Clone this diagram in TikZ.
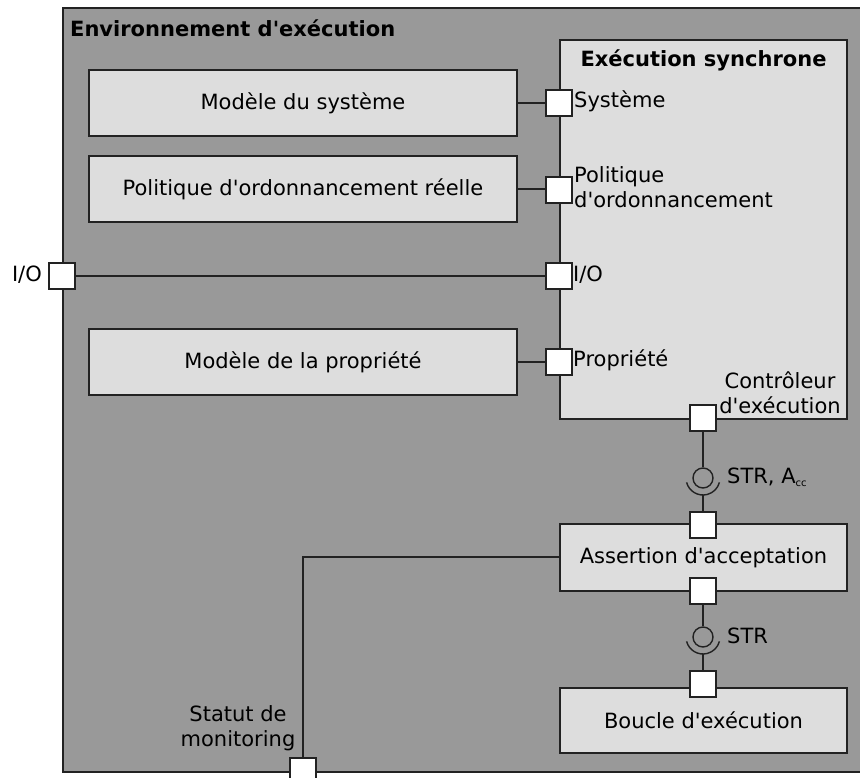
\documentclass[tikz,border=0pt]{standalone}
\usepackage{fontspec}
\setmainfont{DejaVu Sans}[Ligatures=TeXOff]
\definecolor{envfill}{HTML}{999999}
\definecolor{boxfill}{HTML}{DDDDDD}
\definecolor{edge}{HTML}{222222}
\begin{document}
\begin{tikzpicture}[x=1pt,y=-1pt,
  every node/.style={font=\fontsize{21}{25}\selectfont, text=black},
  envbox/.style={draw=edge, line width=2.2pt, fill=envfill, inner sep=0pt},
  compbox/.style={draw=edge, line width=1.5pt, fill=boxfill, inner sep=0pt},
  portbox/.style={draw=edge, line width=1.4pt, fill=white, minimum width=26pt, minimum height=26pt, inner sep=0pt},
  conn/.style={draw=edge, line width=1.4pt},
  lbl/.style={inner sep=0pt},
  ball/.style={circle, draw=edge, line width=1.4pt, minimum size=20pt, inner sep=0pt}
]
\useasboundingbox (0,0) rectangle (860,778);
% outer environment
\node[envbox, minimum width=810pt, minimum height=764pt] (env) at (468,390) {};
\node[lbl, anchor=west, font=\fontsize{21}{25}\selectfont\bfseries] (envtitle) at (70,28) {Environnement d'exécution};

% synchronous execution
\node[compbox, minimum width=287pt, minimum height=379pt] (sync) at (703.5,229.5) {};
\node[lbl, font=\fontsize{21}{25}\selectfont\bfseries] (synctitle) at (703.5,60) {Exécution synchrone};

% left components
\node[compbox, minimum width=428pt, minimum height=66pt] (modele) at (303,103) {Modèle du système};
\node[compbox, minimum width=428pt, minimum height=66pt] (politique) at (303,189) {Politique d'ordonnancement réelle};
\node[compbox, minimum width=428pt, minimum height=66pt] (propriete) at (303,362) {Modèle de la propriété};

% bottom right components
\node[compbox, minimum width=287pt, minimum height=67pt] (assertion) at (703.5,557.5) {Assertion d'acceptation};
\node[compbox, minimum width=287pt, minimum height=65pt] (boucle) at (703.5,720.5) {Boucle d'exécution};

\coordinate (statutbend) at (303,557);

% ports
\node[portbox] (pSys) at (559,103) {};
\node[portbox] (pPol) at (559,190) {};
\node[portbox] (pIO) at (559,276) {};
\node[portbox] (pProp) at (559,362) {};
\node[portbox] (pCtrl) at (703,418) {};
\node[portbox] (pAssIn) at (703,525) {};
\node[portbox] (pAssOut) at (703,591) {};
\node[portbox] (pBoucle) at (703,684) {};
\node[portbox] (pIOext) at (62,276) {};
\node[portbox] (pStatut) at (303,771) {};

% port labels
\node[lbl, anchor=west] (lSys) at (574,101) {Système};
\node[lbl, anchor=west, align=left] (lPol) at (574,187) {Politique\\d'ordonnancement};
\node[lbl, anchor=west] (lIO) at (573,275) {I/O};
\node[lbl, anchor=west] (lProp) at (573,360) {Propriété};
\node[lbl, align=center] (lCtrl) at (780,393) {Contrôleur\\d'exécution};
\node[lbl, anchor=east] (lIOext) at (42,275) {I/O};
\node[lbl, align=center] (lStatut) at (238,728) {Statut de\\monitoring};

% assembly connectors
\node[ball] (ball1) at (703,478) {};
\draw[conn] (703,478) ++(165:17) arc[start angle=165, end angle=15, radius=17];
\coordinate (sock1) at (703,495);
\node[lbl, anchor=west] (lStr1) at (727,477) {STR, A\textsubscript{\fontsize{10}{10}\selectfont cc}};

\node[ball] (ball2) at (703,637) {};
\draw[conn] (703,637) ++(165:17) arc[start angle=165, end angle=15, radius=17];
\coordinate (sock2) at (703,654);
\node[lbl, anchor=west] (lStr2) at (727,636) {STR};

% connector lines
\draw[conn] (modele.east) -- (pSys.west);
\draw[conn] (politique.east) -- (pPol.west |- politique.east);
\draw[conn] (pIOext.east) -- (pIO.west);
\draw[conn] (propriete.east) -- (pProp.west);
\draw[conn] (pCtrl.south) -- (ball1.north);
\draw[conn] (sock1) -- (pAssIn.north);
\draw[conn] (pAssOut.south) -- (ball2.north);
\draw[conn] (sock2) -- (pBoucle.north);
\draw[conn] (pStatut.north) -- (statutbend) -- (statutbend -| assertion.west);
\end{tikzpicture}
\end{document}
